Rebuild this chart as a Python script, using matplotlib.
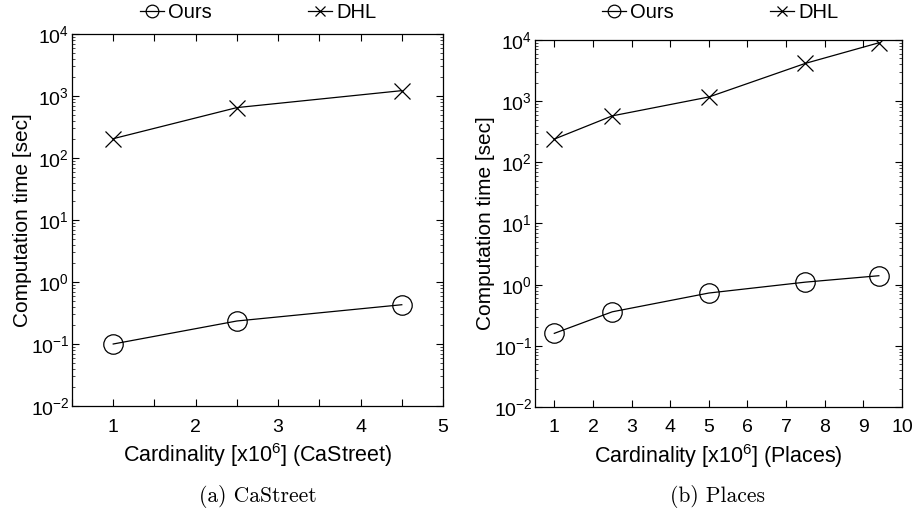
import matplotlib
matplotlib.use("Agg")
import matplotlib.pyplot as plt
from matplotlib.ticker import LogLocator, MultipleLocator, NullFormatter

plt.rcParams['font.family'] = ['Liberation Sans', 'DejaVu Sans']
plt.rcParams['mathtext.fontset'] = 'custom'
plt.rcParams['mathtext.rm'] = 'Liberation Sans'
plt.rcParams['mathtext.it'] = 'Liberation Sans:italic'
plt.rcParams['mathtext.bf'] = 'Liberation Sans:bold'

# Data
castreet_x = [1, 2.5, 4.5]
castreet_ours = [0.10, 0.235, 0.43]
castreet_dhl = [205, 650, 1220]

places_x = [1, 2.5, 5, 7.5, 9.4]
places_ours = [0.16, 0.36, 0.73, 1.1, 1.4]
places_dhl = [240, 575, 1170, 4150, 9000]

series_names = ["Ours", "DHL"]
captions = ["(a) CaStreet", "(b) Places"]
xlabels = [r"Cardinality [x10$^6$] (CaStreet)", r"Cardinality [x10$^6$] (Places)"]
ylabel = "Computation time [sec]"

fig = plt.figure(figsize=(9.15, 5.16), dpi=100)

ax1 = fig.add_axes([72/915, 1-406/516, (443-72)/915, (406-34)/516])
ax2 = fig.add_axes([535/915, 1-407/516, (902-535)/915, (407-40)/516])

panels = [
    (ax1, castreet_x, castreet_ours, castreet_dhl, (0.5, 5), 0.5, 258),
    (ax2, places_x, places_ours, places_dhl, (0.5, 10), 1.0, 718),
]

for i, (ax, x, ours, dhl, xlim, tickstep, cx) in enumerate(panels):
    ax.plot(x, ours, color='black', lw=0.9, marker='o', markersize=14,
            markerfacecolor='none', markeredgecolor='black', markeredgewidth=0.9,
            label=series_names[0])
    ax.plot(x, dhl, color='black', lw=0.9, marker='x', markersize=11,
            markeredgewidth=0.9, label=series_names[1])
    ax.set_yscale('log')
    ax.set_ylim(1e-2, 1e4)
    ax.set_xlim(*xlim)
    ax.yaxis.set_major_locator(LogLocator(base=10, numticks=10))
    ax.yaxis.set_minor_locator(LogLocator(base=10, subs=range(2, 10), numticks=20))
    ax.yaxis.set_minor_formatter(NullFormatter())
    ax.xaxis.set_major_locator(MultipleLocator(tickstep))
    ticks = [t for t in ax.get_xticks() if xlim[0] <= t <= xlim[1]]
    ax.set_xticks(ticks)
    ax.set_xticklabels([str(int(t)) if float(t).is_integer() and t >= 1 else '' for t in ticks])
    ax.tick_params(axis='both', which='both', direction='in', top=True, right=True,
                   labelsize=14, colors='black')
    ax.tick_params(axis='x', which='major', length=5, width=0.8, pad=9)
    ax.tick_params(axis='y', which='major', length=5, width=0.8, pad=2)
    ax.tick_params(axis='y', which='minor', length=2.5, width=0.5)
    for s in ax.spines.values():
        s.set_linewidth(0.9)
    ax.set_xlabel(xlabels[i], fontsize=15.5, labelpad=4)
    ax.set_ylabel(ylabel, fontsize=15, labelpad=-1)
    fig.text(cx/915, 1-497/516, captions[i], fontsize=15.5, family='cmr10',
             ha='center', va='center')

leg_centers = [258, 720]
for ax, c in zip([ax1, ax2], leg_centers):
    ax.legend(loc='center', bbox_to_anchor=(c/915, 1-13/516),
              bbox_transform=fig.transFigure, ncol=2, frameon=False,
              fontsize=14.5, markerscale=0.65, handlelength=1.2, handletextpad=0.2,
              columnspacing=4.8, borderpad=0)

fig.savefig("out.png", dpi=100)
